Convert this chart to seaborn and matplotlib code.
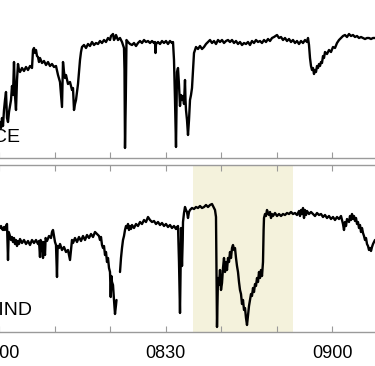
import numpy as np
import pandas as pd
import matplotlib
matplotlib.use("Agg")
import matplotlib.pyplot as plt
import seaborn as sns

# ---------------- data (minutes after 08:00 UT, signal in arbitrary units) ----------------
ace_t = [0.18, 0.36, 0.54, 0.72, 0.90, 1.08, 1.26, 1.44, 1.62, 1.80, 1.98, 2.16, 2.34, 2.52, 2.70, 2.88,
         3.06, 3.24, 3.42, 3.60, 3.78, 4.14, 4.50, 4.86, 5.22, 5.58, 5.94, 6.12, 6.30, 6.48, 6.66, 6.84,
         7.02, 7.20, 7.38, 7.74, 8.10, 8.46, 8.82, 9.18, 9.54, 9.90, 10.26, 10.62, 10.98, 11.16, 11.34,
         11.52, 11.70, 11.88, 12.06, 12.42, 12.78, 13.14, 13.32, 13.50, 13.68, 13.86, 14.22, 14.40, 14.58,
         14.76, 14.94, 15.30, 15.66, 16.02, 16.38, 16.74, 17.10, 17.46, 17.82, 18.18, 18.54, 18.90, 19.26,
         19.62, 19.98, 20.16, 20.52, 20.70, 20.88, 21.06, 21.42, 21.78, 22.14, 22.50, 22.59, 22.68, 22.82,
         22.95, 23.22, 23.58, 23.94, 24.30, 24.66, 25.02, 25.38, 25.74, 26.10, 26.46, 26.82, 27.18, 27.54,
         27.90, 28.08, 28.17, 28.26, 28.62, 28.98, 29.34, 29.70, 30.06, 30.42, 30.78, 31.14, 31.32, 31.50,
         31.68, 31.86, 31.99, 32.04, 32.22, 32.40, 32.58, 32.76, 32.94, 33.12, 33.30, 33.48, 33.57, 33.66,
         33.84, 34.02, 34.20, 34.38, 34.56, 34.74, 34.92, 35.10, 35.28, 35.46, 35.82, 36.18, 36.54, 36.90,
         37.26, 37.62, 37.98, 38.34, 38.70, 39.06, 39.42, 39.78, 40.14, 40.50, 40.86, 41.22, 41.58, 41.94,
         42.30, 42.66, 43.02, 43.38, 43.74, 44.10, 44.46, 44.82, 45.18, 45.54, 45.90, 46.26, 46.62, 46.98,
         47.34, 47.70, 48.06, 48.42, 48.78, 49.14, 49.50, 50.04, 50.40, 50.76, 51.12, 51.48, 51.84, 52.20,
         52.56, 52.92, 53.28, 53.64, 54.00, 54.36, 54.72, 55.08, 55.44, 55.62, 55.80, 55.98, 56.16, 56.34,
         56.52, 56.70, 56.88, 57.06, 57.24, 57.42, 57.60, 57.78, 57.96, 58.14, 58.32, 58.50, 58.68, 59.04,
         59.40, 59.76, 60.12, 60.48, 60.84, 61.20, 61.56, 61.92, 62.28, 62.64, 63.00, 63.36, 63.72, 64.08,
         64.44, 64.80, 65.16, 65.52, 65.88, 66.24, 66.60, 66.96, 67.32, 67.68]
ace_v = [36, 30, 40, 32, 48, 58, 66, 40, 36, 46, 52, 58, 72, 63, 96, 62,
         48, 78, 94, 88, 86, 90, 87, 91, 88, 92, 90, 108, 110, 105, 108, 102,
         101, 96, 100, 95, 97, 93, 96, 92, 94, 91, 92, 83, 76, 63, 51,
         96, 86, 80, 83, 74, 76, 68, 70, 48, 54, 58, 74, 86, 98,
         106, 111, 113, 110, 114, 112, 116, 113, 115, 114, 117, 115, 118, 116,
         120, 118, 122, 124, 118, 120, 123, 118, 120, 116, 110, 88, 10, 58,
         118, 116, 114, 113, 115, 112, 115, 117, 115, 118, 116, 117, 115, 117,
         115, 116, 105, 114, 116, 114, 117, 115, 117, 114, 117, 115, 116, 98,
         58, 11, 68, 86, 90, 73, 52, 63, 58, 62, 54, 78, 58, 48,
         38, 23, 38, 58, 63, 70, 88, 105, 108, 111, 109, 112, 109, 111,
         114, 116, 118, 115, 117, 114, 118, 116, 118, 115, 117, 118, 116, 118,
         115, 117, 114, 116, 113, 115, 114, 116, 113, 117, 115, 118, 116, 117,
         115, 118, 116, 119, 117, 120, 121, 123, 120, 121, 118, 120, 117, 119,
         116, 118, 115, 117, 114, 117, 115, 118, 116, 120, 113, 100, 92, 88,
         90, 84, 88, 86, 92, 90, 94, 92, 96, 95, 102, 100, 106, 104,
         108, 106, 111, 110, 115, 118, 120, 122, 123, 121, 124, 122, 123, 121,
         122, 120, 121, 120, 119, 120, 120, 119, 120, 120]

wind_t1 = [0.18, 0.36, 0.54, 0.72, 0.90, 1.08, 1.26, 1.44, 1.62, 1.75, 1.98, 2.16, 2.34, 2.52, 2.70,
           2.88, 3.06, 3.24, 3.42, 3.60, 3.78, 4.14, 4.50, 4.86, 5.22, 5.58, 5.94, 6.30, 6.66, 7.02,
           7.20, 7.38, 7.49, 7.74, 7.92, 8.03, 8.28, 8.39, 8.64, 9.00, 9.36, 9.54, 9.72, 9.90, 10.08,
           10.26, 10.44, 10.55, 10.80, 10.98, 11.34, 11.70, 12.06, 12.42, 12.78, 12.96, 13.14, 13.32,
           13.68, 14.04, 14.40, 14.76, 15.12, 15.48, 15.84, 16.20, 16.56, 16.92, 17.28, 17.64, 18.00,
           18.18, 18.36, 18.54, 18.72, 18.90, 19.08, 19.26, 19.44, 19.62, 19.80, 19.98, 20.11, 20.23,
           20.34, 20.52, 20.70, 20.88, 21.06, 21.15]
wind_v1 = [104, 106, 103, 102, 105, 102, 106, 108, 72, 100, 96, 92, 95, 90, 94,
           88, 92, 86, 91, 88, 93, 89, 92, 88, 91, 87, 92, 89, 92, 88,
           91, 75, 92, 89, 74, 90, 77, 94, 91, 96, 94, 100, 102, 96, 90,
           87, 55, 86, 84, 88, 82, 85, 80, 82, 72, 82, 92, 89,
           94, 90, 95, 91, 96, 92, 97, 94, 98, 95, 100, 98, 96,
           92, 95, 87, 84, 86, 77, 80, 70, 74, 64, 60, 35, 56,
           50, 47, 32, 18, 27, 32]

wind_t2 = [21.78, 21.96, 22.14, 22.32, 22.50, 22.68, 22.86, 23.04, 23.22, 23.40, 23.58, 23.76, 23.94,
           24.30, 24.66, 25.02, 25.38, 25.74, 26.10, 26.46, 26.82, 27.18, 27.54, 27.90, 28.26, 28.62,
           28.98, 29.34, 29.70, 30.06, 30.42, 30.78, 31.14, 31.50, 31.86, 32.04, 32.22, 32.40, 32.58,
           32.71, 32.76, 32.94, 33.07, 33.12, 33.30, 33.48, 33.66, 33.84, 34.02, 34.20, 34.38, 34.74,
           35.10, 35.46, 35.82, 36.18, 36.54, 36.90, 37.26, 37.62, 37.98, 38.34, 38.52, 38.70, 38.88,
           39.06, 39.17, 39.24, 39.35, 39.42, 39.60, 39.78, 39.96, 40.14, 40.32, 40.50, 40.68, 40.86,
           41.04, 41.22, 41.40, 41.58, 41.76, 41.94, 42.12, 42.30, 42.48, 42.66, 42.84, 43.02, 43.20,
           43.38, 43.56, 43.74, 43.92, 44.10, 44.28, 44.46, 44.64, 44.82, 45.00, 45.18, 45.36, 45.54,
           45.72, 45.90, 46.08, 46.26, 46.44, 46.62, 46.80, 46.98, 47.16, 47.34, 47.52, 47.63, 47.70,
           47.88, 48.06, 48.24, 48.42, 48.60, 48.78, 48.96, 49.14, 49.32, 49.68, 50.04, 50.40, 50.76,
           51.12, 51.48, 51.84, 52.20, 52.56, 52.92, 53.28, 53.64, 54.00, 54.18, 54.36, 54.54, 54.72,
           54.90, 55.08, 55.26, 55.44, 55.80, 56.16, 56.52, 56.88, 57.24, 57.60, 57.96, 58.32, 58.68,
           59.04, 59.40, 59.76, 60.12, 60.48, 60.84, 61.20, 61.56, 61.92, 62.10, 62.28, 62.46, 62.64,
           63.00, 63.18, 63.36, 63.54, 63.72, 63.90, 64.08, 64.26, 64.44, 64.62, 64.80, 64.98, 65.16,
           65.34, 65.52, 65.70, 65.88, 66.06, 66.24, 66.42, 66.60, 66.78, 66.96, 67.14, 67.32, 67.50,
           67.68]
wind_v2 = [60, 74, 84, 92, 96, 102, 106, 104, 108, 102, 106, 103, 107,
           104, 108, 106, 110, 108, 112, 110, 115, 112, 110, 111, 108, 110,
           107, 109, 106, 108, 105, 107, 104, 106, 103, 105, 106, 70, 19,
           72, 104, 66, 92, 110, 119, 125, 122, 120, 114, 120, 122, 124,
           123, 125, 124, 126, 124, 125, 127, 125, 127, 128, 126, 124, 122,
           115, 52, 5, 32, 54, 47, 62, 42, 49, 64, 74, 60, 70,
           62, 74, 70, 80, 74, 84, 87, 82, 84, 74, 66, 60, 50,
           42, 38, 28, 32, 22, 24, 14, 7, 17, 26, 32, 38, 36,
           44, 40, 48, 46, 54, 50, 60, 54, 62, 56, 70, 102, 114,
           118, 116, 122, 119, 117, 120, 114, 118, 116, 119, 116, 118, 116,
           118, 117, 119, 118, 120, 118, 119, 117, 121, 116, 122, 118, 124,
           114, 122, 117, 121, 118, 120, 118, 116, 119, 117, 118, 115, 117,
           114, 116, 113, 115, 112, 115, 113, 116, 108, 102, 110, 106, 113,
           110, 116, 112, 118, 113, 116, 111, 114, 108, 110, 104, 107, 100,
           104, 99, 96, 92, 94, 88, 86, 82, 84, 81, 85, 88, 90,
           92]

tick_minutes = [0, 10, 20, 30, 40, 50, 60]
tick_labels = ["0800", "", "", "0830", "", "", "0900"]
shade_start, shade_end = 34.9, 53.0
panel_names = ["ACE", "WIND"]

# ---------------- figure ----------------
sns.set_theme(style="white")
plt.rcParams["font.family"] = ["Liberation Sans", "DejaVu Sans"]

ace_df = pd.DataFrame({"t": ace_t, "v": ace_v, "seg": 0})
wind_df = pd.concat([
    pd.DataFrame({"t": wind_t1, "v": wind_v1, "seg": 0}),
    pd.DataFrame({"t": wind_t2, "v": wind_v2, "seg": 1}),
], ignore_index=True)

fig = plt.figure(figsize=(3.75, 3.66), dpi=100)
# axes extend 3 px past the left edge so the 0800 tick (at x = -1 px) is still drawn
ax_left = -3 / 375
ax_width = 378 / 375
ax_top = fig.add_axes([ax_left, 208 / 366, ax_width, 183 / 366])
ax_bot = fig.add_axes([ax_left, 34 / 366, ax_width, 167 / 366])
x_lo, x_hi = -0.36, 67.68

grey = "#9a9a9a"
for ax, df, top_lim in [(ax_top, ace_df, 183), (ax_bot, wind_df, 167)]:
    sns.lineplot(data=df, x="t", y="v", units="seg", estimator=None, sort=False,
                 color="black", linewidth=1.7, ax=ax, legend=False)
    ax.set_xlabel("")
    ax.set_ylabel("")
    ax.set_yticks([])
    ax.set_xticks(tick_minutes)
    ax.set_xlim(x_lo, x_hi)
    ax.set_ylim(0, top_lim)
    for s in ["left", "right"]:
        ax.spines[s].set_visible(False)
    for s in ["top", "bottom"]:
        ax.spines[s].set_color(grey)
        ax.spines[s].set_linewidth(1.0)
    ax.tick_params(axis="x", direction="in", length=4.5, width=0.8, color=grey,
                   top=True, bottom=True, pad=9, labelsize=13, labelcolor="black")
    ax.set_facecolor("none")

ax_top.set_xticklabels([])
ax_bot.set_xticklabels(tick_labels)
ax_bot.axvspan(shade_start, shade_end, color="#f4f2dc", zorder=0, lw=0)
ax_bot.set_xlim(x_lo, x_hi)

ax_top.text(24 / 378, 16 / 183, panel_names[0], transform=ax_top.transAxes,
            ha="right", va="baseline", fontsize=14, color="black")
ax_bot.text(36 / 378, 17 / 167, panel_names[1], transform=ax_bot.transAxes,
            ha="right", va="baseline", fontsize=14, color="black")

fig.savefig("out.png", dpi=100)
